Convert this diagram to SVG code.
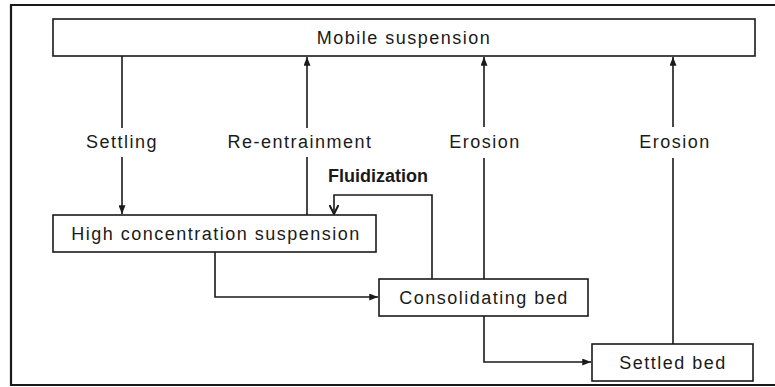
<svg xmlns="http://www.w3.org/2000/svg" width="775" height="387" viewBox="0 0 775 387">
<defs>
<marker id="ah" viewBox="0 0 10 8" refX="10" refY="4" markerWidth="9" markerHeight="7" markerUnits="userSpaceOnUse" orient="auto">
<path d="M0,0 L10,4 L0,8 Z" fill="#1a1a1a"/>
</marker>
<marker id="av" viewBox="0 0 10 10" refX="9" refY="5" markerWidth="10" markerHeight="10" markerUnits="userSpaceOnUse" orient="auto">
<path d="M0,0.5 L9,5 L0,9.5" fill="none" stroke="#1a1a1a" stroke-width="2"/>
</marker>
</defs>
<style>
.box{fill:#fff;stroke:#1a1a1a;stroke-width:1.6}
.t{font-family:"Liberation Sans",Arial,sans-serif;font-size:18px;letter-spacing:1.5px;fill:#1a1a1a;text-anchor:middle}
.b{font-family:"Liberation Sans",Arial,sans-serif;font-size:18px;font-weight:bold;fill:#1a1a1a}
.c{fill:none;stroke:#1a1a1a;stroke-width:1.6}
</style>
<rect width="775" height="387" fill="#fff"/>
<path d="M780,5 H11 V385 H780" fill="none" stroke="#1a1a1a" stroke-width="2.2"/>
<g id="connectors">
<path class="c" d="M122,56 V128"/>
<path class="c" d="M122,157 V214" marker-end="url(#ah)"/>
<path class="c" d="M307,215 V157"/>
<path class="c" d="M307,128 V57" marker-end="url(#ah)"/>
<path class="c" d="M484,279 V158"/>
<path class="c" d="M484,127 V57" marker-end="url(#ah)"/>
<path class="c" d="M673,344 V158"/>
<path class="c" d="M673,127 V57" marker-end="url(#ah)"/>
<path class="c" d="M432,279 V195 H334 V214" marker-end="url(#av)"/>
<path class="c" d="M215,252 V297 H378" marker-end="url(#ah)"/>
<path class="c" d="M484,316 V362 H591" marker-end="url(#ah)"/>
<text class="t" x="122" y="148">Settling</text>
<text class="t" x="300" y="148">Re-entrainment</text>
<text class="t" x="485" y="148">Erosion</text>
<text class="t" x="675" y="148">Erosion</text>
<text class="b" x="328" y="182">Fluidization</text>
</g>
<g id="mobile">
<rect class="box" x="53" y="19" width="702" height="37"/>
<text class="t" x="404" y="44">Mobile suspension</text>
</g>
<g id="high">
<rect class="box" x="53" y="215" width="323" height="37"/>
<text class="t" x="216" y="240">High concentration suspension</text>
</g>
<g id="consolidating">
<rect class="box" x="379" y="279" width="209" height="37"/>
<text class="t" x="484" y="304">Consolidating bed</text>
</g>
<g id="settled">
<rect class="box" x="592" y="344" width="161" height="37"/>
<text class="t" x="673" y="369">Settled bed</text>
</g>
</svg>
